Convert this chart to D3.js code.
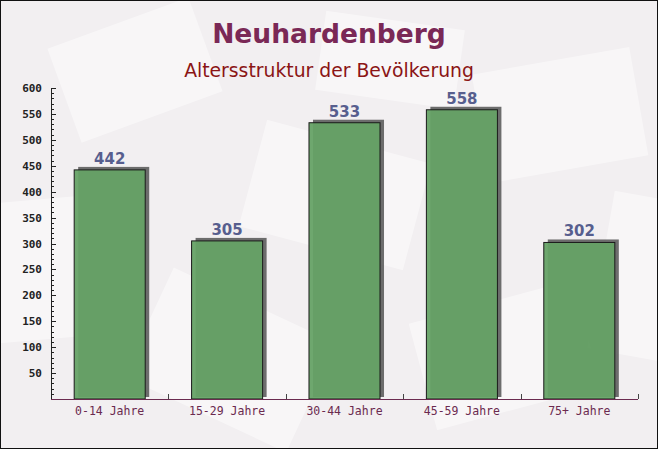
<!DOCTYPE html>
<html><head><meta charset="utf-8">
<script src="https://cdn.jsdelivr.net/npm/d3@7"></script>
<style>html,body{margin:0;padding:0;background:#fff;}svg{display:block;}</style>
</head><body>
<svg id="chart" width="658" height="449"></svg>
<script>
const categories = ["0-14 Jahre", "15-29 Jahre", "30-44 Jahre", "45-59 Jahre", "75+ Jahre"];
const values = [442, 305, 533, 558, 302];
const yTicks = [50, 100, 150, 200, 250, 300, 350, 400, 450, 500, 550, 600];
const title = "Neuhardenberg";
const subtitle = "Altersstruktur der Bevölkerung";

const W = 658, H = 449;
const m = {left: 51, right: 20, top: 88, bottom: 50};
const svg = d3.select("#chart");

// background
svg.append("rect").attr("width", W).attr("height", H).attr("fill", "#f2eff1");
const deco = [
  [60, 20, 150, 100, -20], [250, 140, 170, 110, 15], [480, 60, 160, 110, -10],
  [140, 300, 180, 120, 25], [420, 300, 170, 110, -15], [600, 200, 120, 160, 10],
  [-20, 200, 110, 140, -5], [320, 20, 140, 80, 8]
];
const dg = svg.append("g");
deco.forEach(d => {
  dg.append("rect").attr("x", d[0]).attr("y", d[1]).attr("width", d[2]).attr("height", d[3])
    .attr("fill", "#ffffff").attr("opacity", 0.45)
    .attr("transform", `rotate(${d[4]},${d[0] + d[2] / 2},${d[1] + d[3] / 2})`);
});

const x = d3.scaleBand().domain(categories).range([m.left, W - m.right]).paddingInner(0.395).paddingOuter(0.1975);
const y = d3.scaleLinear().domain([0, 600]).range([H - m.bottom, m.top]);

// bars with shadow
const g = svg.append("g");
g.selectAll(".shadow").data(values).join("rect")
  .attr("x", (d, i) => x(categories[i]) + 4)
  .attr("y", d => y(d) - 3)
  .attr("width", x.bandwidth())
  .attr("height", d => y(0) - y(d) + 1)
  .attr("fill", "#555")
  .attr("opacity", 0.85);
g.selectAll(".bar").data(values).join("rect")
  .attr("x", (d, i) => x(categories[i]))
  .attr("y", d => y(d))
  .attr("width", x.bandwidth())
  .attr("height", d => y(0) - y(d))
  .attr("fill", "#66a266")
  .attr("fill-opacity", 0.95)
  .attr("stroke", "#1a1a1a")
  .attr("stroke-width", 1);

g.selectAll(".val").data(values).join("text")
  .attr("x", (d, i) => x(categories[i]) + x.bandwidth() / 2)
  .attr("y", d => y(d) - 6)
  .attr("text-anchor", "middle")
  .attr("font-family", "DejaVu Sans")
  .attr("font-weight", "bold")
  .attr("font-size", 15)
  .attr("fill", "#575e8e")
  .text(d => d);

// y axis
const yAxisG = svg.append("g").attr("transform", `translate(${m.left},0)`);
const minor = d3.range(10, 601, 10);
yAxisG.selectAll(".mt").data(minor).join("line")
  .attr("x1", 0).attr("x2", d => d % 50 === 0 ? 5 : 3)
  .attr("y1", d => Math.round(y(d)) + 0.5).attr("y2", d => Math.round(y(d)) + 0.5)
  .attr("stroke", "#222").attr("stroke-width", 1);
yAxisG.append("line").attr("x1", 0.5).attr("x2", 0.5).attr("y1", y(600)).attr("y2", y(0))
  .attr("stroke", "#222");
yAxisG.selectAll(".yl").data(yTicks).join("text")
  .attr("x", -9).attr("y", d => y(d) + 4)
  .attr("text-anchor", "end")
  .attr("font-family", "DejaVu Sans Mono")
  .attr("font-weight", "bold")
  .attr("font-size", 11)
  .attr("fill", "#222")
  .text(d => d);

// x axis
const xAxisG = svg.append("g");
xAxisG.append("line").attr("x1", m.left).attr("x2", W - m.right).attr("y1", y(0) + 0.5).attr("y2", y(0) + 0.5)
  .attr("stroke", "#6b2a4f").attr("stroke-width", 1.2);
const bounds = categories.slice(1).map(c => x(c) - x.step() * x.paddingInner() / 2).concat([W - m.right]);
xAxisG.selectAll(".xt").data(bounds).join("line")
  .attr("x1", d => Math.round(d) + 0.5).attr("x2", d => Math.round(d) + 0.5)
  .attr("y1", y(0) - 5).attr("y2", y(0))
  .attr("stroke", "#444");
xAxisG.selectAll(".xl").data(categories).join("text")
  .attr("x", d => x(d) + x.bandwidth() / 2)
  .attr("y", y(0) + 16)
  .attr("text-anchor", "middle")
  .attr("font-family", "DejaVu Sans Mono")
  .attr("font-size", 11.5)
  .attr("fill", "#6b2a4f")
  .text(d => d);

// titles
svg.append("text").attr("x", W / 2).attr("y", 43).attr("text-anchor", "middle")
  .attr("font-family", "DejaVu Sans").attr("font-weight", "bold").attr("font-size", 26.5)
  .attr("fill", "#7a2856").text(title);
svg.append("text").attr("x", W / 2).attr("y", 77).attr("text-anchor", "middle")
  .attr("font-family", "DejaVu Sans").attr("font-size", 18.8)
  .attr("fill", "#8b1515").text(subtitle);

// border
svg.append("rect").attr("x", 0.5).attr("y", 0.5).attr("width", W - 1).attr("height", H - 1)
  .attr("fill", "none").attr("stroke", "#111");
</script>
</body></html>
